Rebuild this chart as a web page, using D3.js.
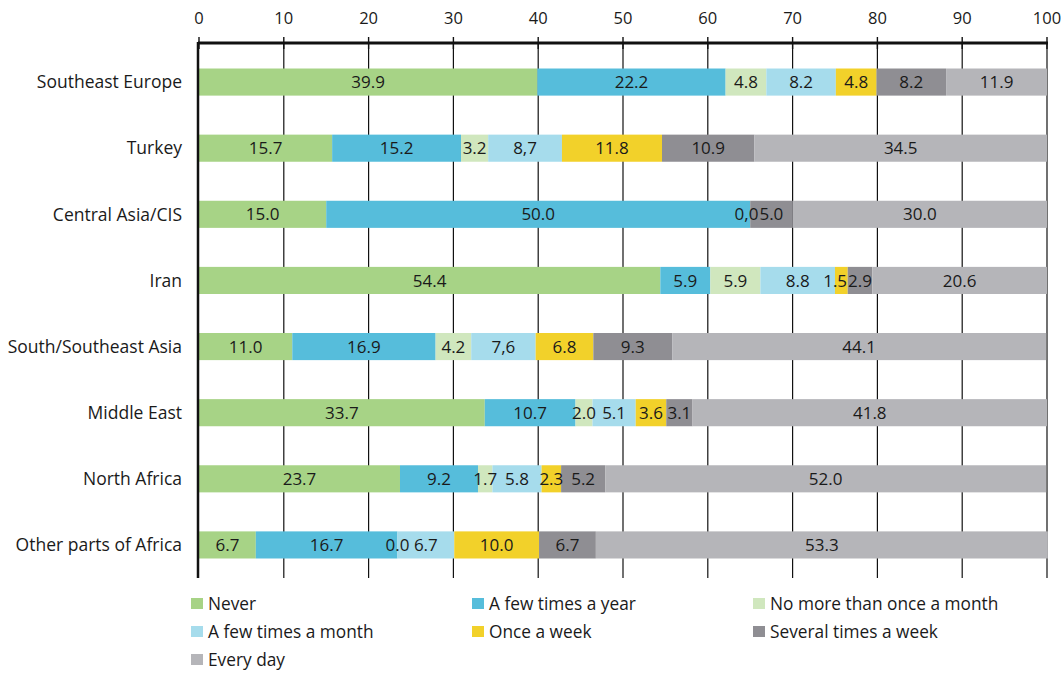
<!DOCTYPE html>
<html>
<head>
<meta charset="utf-8">
<script src="https://cdn.jsdelivr.net/npm/d3@7/dist/d3.min.js"></script>
<style>
  html, body { margin: 0; padding: 0; background: #ffffff; }
  svg { display: block; font-family: "Open Sans", "Noto Sans", sans-serif; }
</style>
</head>
<body>
<svg id="chart" width="1064" height="673"></svg>
<script>
// Frequency of contact, percentage shares per region of origin
const regions = ["Southeast Europe", "Turkey", "Central Asia/CIS", "Iran",
                 "South/Southeast Asia", "Middle East", "North Africa", "Other parts of Africa"];
const seriesNames = ["Never", "A few times a year", "No more than once a month",
                     "A few times a month", "Once a week", "Several times a week", "Every day"];
const never          = [39.9, 15.7, 15.0, 54.4, 11.0, 33.7, 23.7, 6.7];
const fewTimesYear   = [22.2, 15.2, 50.0, 5.9, 16.9, 10.7, 9.2, 16.7];
const onceMonthMax   = [4.8, 3.2, 0.0, 5.9, 4.2, 2.0, 1.7, 0.0];
const fewTimesMonth  = [8.2, 8.7, 0.0, 8.8, 7.6, 5.1, 5.8, 6.7];
const onceWeek       = [4.8, 11.8, 0.0, 1.5, 6.8, 3.6, 2.3, 10.0];
const severalWeek    = [8.2, 10.9, 5.0, 2.9, 9.3, 3.1, 5.2, 6.7];
const everyDay       = [11.9, 34.5, 30.0, 20.6, 44.1, 41.8, 52.0, 53.3];
const xTicks = [0, 10, 20, 30, 40, 50, 60, 70, 80, 90, 100];
// labels printed with a decimal comma: [region, series]
const commaLabels = [["Turkey", "A few times a month"],
                     ["South/Southeast Asia", "A few times a month"],
                     ["Central Asia/CIS", "A few times a month"]];
// zero shares that get a printed label
const zeroLabels = [["Central Asia/CIS", "A few times a month"],
                    ["Other parts of Africa", "No more than once a month"]];

const colors = ["#a7d386", "#56bddb", "#d0e7be", "#a6dcec", "#f2d12a", "#8f8e93", "#b5b5b9"];
const seriesValues = [never, fewTimesYear, onceMonthMax, fewTimesMonth, onceWeek, severalWeek, everyDay];

const svg = d3.select("#chart");
const textColor = "#1a1a1a";

const x = d3.scaleLinear().domain([0, 100]).range([199, 1047]);
const y = d3.scaleBand().domain(regions).range([49, 578]).paddingInner(0.59).paddingOuter(0.295);

// table: one row per region, keyed by series name
const table = regions.map((r, i) => {
  const row = { region: r };
  seriesNames.forEach((s, j) => { row[s] = seriesValues[j][i]; });
  return row;
});
const stacked = d3.stack().keys(seriesNames)(table);

// vertical grid lines
svg.append("g").selectAll("line").data(xTicks.slice(1)).join("line")
  .attr("x1", d => x(d)).attr("x2", d => x(d))
  .attr("y1", 43).attr("y2", 578)
  .attr("stroke", "#111").attr("stroke-width", 1.2);

// bars
const layers = svg.append("g").selectAll("g").data(stacked).join("g")
  .attr("fill", (d, i) => colors[i]);
layers.selectAll("rect").data(d => d).join("rect")
  .attr("x", d => x(d[0]))
  .attr("width", d => x(d[1]) - x(d[0]))
  .attr("y", d => y(d.data.region))
  .attr("height", y.bandwidth());

// value labels
const isIn = (list, r, s) => list.some(p => p[0] === r && p[1] === s);
const labelData = [];
stacked.forEach((layer, j) => {
  layer.forEach(d => {
    const r = d.data.region, s = seriesNames[j], v = d.data[s];
    if (v === 0 && !isIn(zeroLabels, r, s)) return;
    let txt = v.toFixed(1);
    if (isIn(commaLabels, r, s)) txt = txt.replace(".", ",");
    labelData.push({ region: r, series: j, cx: x((d[0] + d[1]) / 2), txt });
  });
});
const labelG = svg.append("g");
const labels = labelG.selectAll("text").data(labelData).join("text")
  .attr("x", d => d.cx)
  .attr("y", d => y(d.region) + y.bandwidth() / 2)
  .attr("dy", "0.36em")
  .attr("text-anchor", "middle")
  .attr("font-size", 17)
  .attr("fill", textColor)
  .text(d => d.txt);

// nudge labels left where they would run into the next label of the same row
labels.each(function (d) { d.w = this.getComputedTextLength(); });
regions.forEach(r => {
  const row = labelData.filter(d => d.region === r).sort((a, b) => a.series - b.series);
  for (let i = row.length - 2; i >= 0; i--) {
    const a = row[i], b = row[i + 1];
    const overlap = (a.cx + a.w / 2) - (b.cx - b.w / 2) + 1;
    if (overlap > 0) a.cx -= overlap;
  }
});
labels.attr("x", d => d.cx);

// top axis
svg.append("line")
  .attr("x1", x(0) - 1).attr("x2", x(100) + 1).attr("y1", 43).attr("y2", 43)
  .attr("stroke", "#111").attr("stroke-width", 3);
svg.append("g").selectAll("line").data(xTicks).join("line")
  .attr("x1", d => x(d)).attr("x2", d => x(d))
  .attr("y1", 37).attr("y2", 49)
  .attr("stroke", "#111").attr("stroke-width", 1.4);
svg.append("g").selectAll("text").data(xTicks).join("text")
  .attr("x", d => x(d)).attr("y", 24)
  .attr("text-anchor", "middle")
  .attr("font-size", 16.5)
  .attr("fill", textColor)
  .text(d => d);

// left axis line
svg.append("line")
  .attr("x1", x(0) - 1).attr("x2", x(0) - 1).attr("y1", 42).attr("y2", 578)
  .attr("stroke", "#111").attr("stroke-width", 2.5);

// category labels
svg.append("g").selectAll("text").data(regions).join("text")
  .attr("x", 182)
  .attr("y", d => y(d) + y.bandwidth() / 2)
  .attr("dy", "0.36em")
  .attr("text-anchor", "end")
  .attr("font-size", 17.5)
  .attr("fill", textColor)
  .text(d => d);

// legend, three columns
const legendX = [191, 472, 753];
const legendY = [604, 632, 660];
const legend = svg.append("g").selectAll("g").data(seriesNames).join("g")
  .attr("transform", (d, i) => `translate(${legendX[i % 3]},${legendY[Math.floor(i / 3)]})`);
legend.append("rect")
  .attr("x", 0).attr("y", -6).attr("width", 12).attr("height", 11)
  .attr("fill", (d, i) => colors[i]);
legend.append("text")
  .attr("x", 17).attr("y", 0).attr("dy", "0.36em")
  .attr("font-size", 17.3)
  .attr("fill", textColor)
  .text(d => d);
</script>
</body>
</html>
